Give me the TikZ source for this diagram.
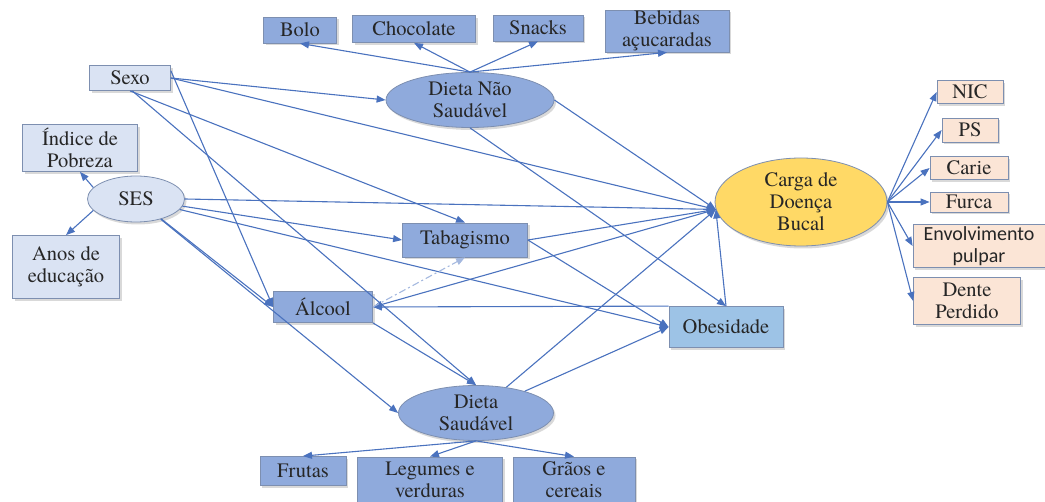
\documentclass[tikz,border=0pt]{standalone}
\usepackage{fontspec}
\setmainfont{texgyretermes}[Extension=.otf, UprightFont=*-regular, BoldFont=*-bold,
  ItalicFont=*-italic, BoldItalicFont=*-bolditalic]
\newfontfamily\calibfont{Carlito}
\usetikzlibrary{arrows.meta,shapes.geometric,shadows}

\definecolor{midblue}{HTML}{8FAADC}
\definecolor{paleblue}{HTML}{DAE3F3}
\definecolor{obesblue}{HTML}{9DC3E6}
\definecolor{goldfill}{HTML}{FFD966}
\definecolor{peach}{HTML}{FBE5D6}
\definecolor{linkblue}{HTML}{4A72BE}
\definecolor{rimgray}{HTML}{7D8FB0}

\tikzset{
  basebox/.style={draw=rimgray, line width=0.8pt, inner sep=0pt, align=center, text=black!85,
    font=\fontsize{20.5}{22}\selectfont,
    drop shadow={shadow xshift=2pt, shadow yshift=-2.5pt, opacity=0.3}},
  darkbox/.style args={#1,#2}{basebox, fill=midblue, minimum width=#1, minimum height=#2},
  palebox/.style args={#1,#2}{basebox, fill=paleblue, minimum width=#1, minimum height=#2},
  peachbox/.style args={#1,#2}{basebox, fill=peach, minimum width=#1, minimum height=#2},
  blob/.style args={#1,#2}{basebox, ellipse, minimum width=#1, minimum height=#2},
  link/.style={draw=linkblue, line width=1.1pt, -{Triangle[length=9pt,width=7pt]}},
  dashlink/.style={link, draw=linkblue!50, dash pattern=on 7pt off 3pt on 2pt off 3pt}
}

\begin{document}
\begin{tikzpicture}[x=1pt,y=-1pt]
    \useasboundingbox (0,0) rectangle (1045,502);
    \node[darkbox={73pt,26pt}] (bolo) at (300,30) {Bolo};
    \node[darkbox={123pt,27pt}] (choc) at (414,29) {Chocolate};
    \node[darkbox={90pt,26pt}] (snacks) at (538,28) {Snacks};
    \node[darkbox={124pt,42pt}] (bebidas) at (667,31) {Bebidas\\açucaradas};
    \node[blob={168pt,55pt}, fill=midblue] (dns) at (470,100) {Dieta Não\\Saudável};

    \node[palebox={81pt,25pt}] (sexo) at (130,78) {Sexo};
    \node[palebox={115pt,47pt}] (indice) at (80,148) {Índice de\\Pobreza};
    \node[blob={97pt,46pt}, fill=paleblue] (ses) at (136,199) {SES};
    \node[palebox={107pt,63pt}] (anos) at (66,267) {Anos de\\educação};

    \node[darkbox={125pt,34pt}] (tabag) at (465,240) {Tabagismo};
    \node[darkbox={99pt,31pt}] (alcool) at (323,307) {Álcool};
    \node[basebox, fill=obesblue, minimum width=114pt, minimum height=41pt] (obes) at (726,327) {Obesidade};
    \node[blob={172pt,88pt}, fill=goldfill] (carga) at (801,202) {Carga de\\Doença\\Bucal};

    \node[blob={155pt,55pt}, fill=midblue] (ds) at (476,413) {Dieta\\Saudável};
    \node[darkbox={86pt,29pt}] (frutas) at (303,471) {Frutas};
    \node[darkbox={145pt,45pt}] (legumes) at (430,479.5) {Legumes e\\verduras};
    \node[darkbox={122pt,45pt}] (graos) at (574,479.5) {Grãos e\\cereais};

    \node[peachbox={66pt,23pt}] (nic) at (970,92) {NIC};
    \node[peachbox={56pt,24pt}] (ps) at (970,130) {PS};
    \node[peachbox={78pt,23pt}] (carie) at (969,168) {Carie};
    \node[peachbox={78pt,20pt}] (furca) at (969,202) {Furca};
    \node[peachbox={132pt,43pt}, font=\calibfont\fontsize{20}{22}\selectfont] (envolv) at (979,246) {Envolvimento\\pulpar};
    \node[peachbox={107pt,47pt}] (dente) at (967,301) {Dente\\Perdido};

    \draw[link] (dns.north) -- (bolo.south);
    \draw[link] (dns.north) -- (choc.south);
    \draw[link] (dns.north) -- (snacks.south);
    \draw[link] (dns.north) -- (bebidas.south);

    \draw[link] (sexo.east) -- (dns.west);
    \draw[link] (sexo.east) -- (carga.185);
    \draw[link] (sexo.south) -- (tabag.north);
    \draw[link] (sexo.10) -- (alcool.west);
    \draw[link] (sexo.-80) -- (ds.north);

    \draw[link] (ses.165) -- (indice.south);
    \draw[link] (ses.195) -- (anos.north);
    \draw[link] (ses.east) -- (carga.185);
    \draw[link] (ses) -- (tabag.west);
    \draw[link] (ses) -- (obes.west);
    \draw[link] (ses) -- (alcool.west);
    \draw[link] (ses) -- (ds.west);

    \draw[link] (dns.east) -- (carga.185);
    \draw[link] (dns.south) -- (obes.north);
    \draw[link] (tabag.east) -- (carga.185);
    \draw[link] (tabag.east) -- (obes.west);
    \draw[link] (carga.185) -- (alcool.east);
    \draw[link] (obes.north west) -- (alcool.east);
    \draw[dashlink] (alcool.east) -- (tabag.south);
    \draw[link] (alcool.south east) -- (ds.north);
    \draw[link] (ds) -- (carga.185);
    \draw[link] (ds) -- (obes.west);
    \draw[link] (obes.north) -- (carga.185);

    \draw[link] (ds.south) -- (frutas.north);
    \draw[link] (ds.south) -- (legumes.north);
    \draw[link] (ds.south) -- (graos.north);

    \foreach \t in {nic,ps,carie,furca,envolv,dente}
        \draw[link] (carga.east) -- (\t.west);
\end{tikzpicture}
\end{document}
